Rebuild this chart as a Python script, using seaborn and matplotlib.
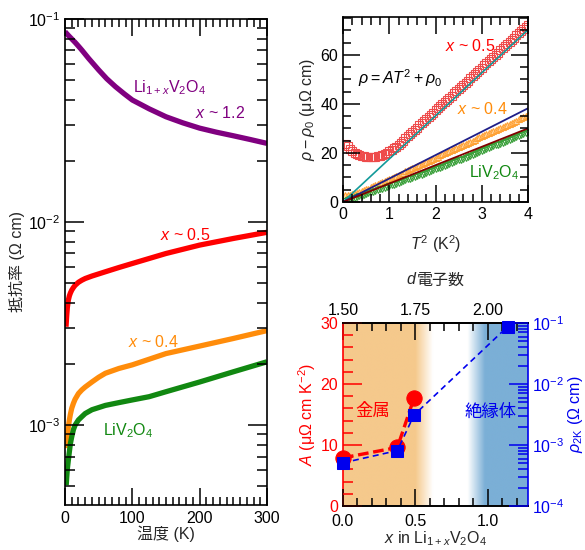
import numpy as np
import matplotlib
matplotlib.use("Agg")
import matplotlib.pyplot as plt
import seaborn as sns
from matplotlib.ticker import MultipleLocator, LogLocator, NullFormatter, FixedLocator, FormatStrFormatter
from matplotlib.offsetbox import TextArea, HPacker, AnchoredOffsetbox
from matplotlib.collections import LineCollection
from matplotlib.transforms import blended_transform_factory

sns.set_theme(style="ticks")
plt.rcParams["font.family"] = ["Liberation Sans", "Noto Sans CJK JP"]
plt.rcParams["mathtext.fontset"] = "custom"
plt.rcParams["mathtext.rm"] = "Liberation Sans"
plt.rcParams["mathtext.it"] = "Liberation Sans:italic"
plt.rcParams["mathtext.bf"] = "Liberation Sans:bold"
plt.rcParams.update({
    "axes.axisbelow": False,
    "xtick.direction": "in", "ytick.direction": "in",
    "xtick.color": "black", "ytick.color": "black",
    "xtick.top": True, "ytick.right": True,
    "axes.edgecolor": "black",
})

# ---------------- data: left panel (resistivity vs T) ----------------
T_x12 = [0, 5, 10, 15, 20, 25, 35, 50, 62, 75, 88, 100, 125, 150, 175, 200, 225, 250, 275, 300]
rho_x12 = [0.0866, 0.083, 0.0798, 0.0767, 0.0735, 0.0703, 0.064, 0.0561, 0.0508, 0.0464,
           0.0428, 0.0399, 0.0361, 0.0330, 0.0308, 0.0290, 0.0277, 0.0266, 0.0255, 0.0244]
T_x05 = [1.5, 2.5, 3.5, 5, 6.5, 8, 10, 12.5, 15, 20, 25, 30, 40, 60, 80, 100, 150, 200, 250, 300]
rho_x05 = [3.05e-3, 3.45e-3, 3.8e-3, 4.13e-3, 4.33e-3, 4.47e-3, 4.62e-3, 4.76e-3, 4.88e-3,
           5.05e-3, 5.17e-3, 5.27e-3, 5.42e-3, 5.69e-3, 5.97e-3, 6.25e-3, 7.0e-3, 7.7e-3,
           8.3e-3, 8.9e-3]
T_x04 = [1.8, 2.5, 3.5, 5, 6.5, 8, 10, 12.5, 15, 20, 25, 30, 40, 50, 60, 80, 100, 150, 200, 250, 300]
rho_x04 = [7.7e-4, 8.2e-4, 8.9e-4, 9.8e-4, 1.06e-3, 1.13e-3, 1.21e-3, 1.28e-3, 1.34e-3,
           1.43e-3, 1.49e-3, 1.54e-3, 1.63e-3, 1.72e-3, 1.80e-3, 1.90e-3, 1.98e-3, 2.25e-3,
           2.45e-3, 2.67e-3, 2.92e-3]
T_liv = [1.8, 2.5, 3.5, 5, 6.5, 8, 10, 12.5, 15, 20, 25, 30, 40, 60, 80, 100, 125, 150, 200, 250, 300]
rho_liv = [5.06e-4, 5.5e-4, 6.1e-4, 6.73e-4, 7.4e-4, 8.1e-4, 8.76e-4, 9.5e-4, 1.0e-3,
           1.06e-3, 1.10e-3, 1.14e-3, 1.19e-3, 1.25e-3, 1.29e-3, 1.33e-3, 1.38e-3, 1.46e-3,
           1.63e-3, 1.83e-3, 2.05e-3]

# ---------------- data: top-right panel (rho - rho0 vs T^2) ----------------
T2 = [0.05, 0.10, 0.15, 0.20, 0.25, 0.30, 0.35, 0.40, 0.45, 0.50,
      0.55, 0.60, 0.65, 0.70, 0.75, 0.80, 0.85, 0.90, 0.95, 1.00,
      1.05, 1.10, 1.15, 1.20, 1.25, 1.30, 1.35, 1.40, 1.45, 1.50,
      1.55, 1.60, 1.65, 1.70, 1.75, 1.80, 1.85, 1.90, 1.95, 2.00,
      2.05, 2.10, 2.15, 2.20, 2.25, 2.30, 2.35, 2.40, 2.45, 2.50,
      2.55, 2.60, 2.65, 2.70, 2.75, 2.80, 2.85, 2.90, 2.95, 3.00,
      3.05, 3.10, 3.15, 3.20, 3.25, 3.30, 3.35, 3.40, 3.45, 3.50,
      3.55, 3.60, 3.65, 3.70, 3.75, 3.80, 3.85, 3.90, 3.95, 4.00]
d_x05 = [23.8, 22.8, 21.6, 20.7, 20.0, 19.5, 19.1, 18.8, 18.6, 18.5,
         18.4, 18.4, 18.4, 18.5, 18.7, 18.9, 19.2, 19.6, 20.1, 20.6,
         21.2, 21.9, 22.6, 23.3, 24.2, 25.0, 25.9, 26.8, 27.7, 28.5,
         29.4, 30.3, 31.2, 32.0, 32.9, 33.8, 34.7, 35.5, 36.4, 37.3,
         38.2, 39.0, 39.9, 40.8, 41.7, 42.5, 43.4, 44.3, 45.2, 46.0,
         46.9, 47.8, 48.7, 49.5, 50.4, 51.3, 52.2, 53.0, 53.9, 54.8,
         55.7, 56.5, 57.4, 58.3, 59.2, 60.0, 60.9, 61.8, 62.7, 63.5,
         64.4, 65.3, 66.2, 67.0, 67.9, 68.8, 69.7, 70.5, 71.4, 72.3]
d_x04 = [2.8, 3.0, 3.0, 3.1, 3.3, 3.6, 3.9, 4.3, 4.7, 5.1,
         5.5, 6.0, 6.4, 6.8, 7.3, 7.7, 8.1, 8.6, 9.0, 9.4,
         9.9, 10.3, 10.7, 11.2, 11.6, 12.0, 12.5, 12.9, 13.3, 13.8,
         14.2, 14.6, 15.1, 15.5, 15.9, 16.4, 16.8, 17.2, 17.7, 18.1,
         18.5, 19.0, 19.4, 19.8, 20.3, 20.7, 21.1, 21.5, 22.0, 22.4,
         22.8, 23.3, 23.7, 24.1, 24.6, 25.0, 25.4, 25.9, 26.3, 26.7,
         27.2, 27.6, 28.0, 28.5, 28.9, 29.3, 29.8, 30.2, 30.6, 31.1,
         31.5, 31.9, 32.4, 32.8, 33.2, 33.7, 34.1, 34.5, 35.0, 35.4]
d_liv = [0.5, 0.8, 1.1, 1.4, 1.7, 2.0, 2.3, 2.6, 3.0, 3.3,
         3.6, 3.9, 4.2, 4.5, 4.9, 5.2, 5.5, 5.8, 6.2, 6.5,
         6.8, 7.1, 7.5, 7.8, 8.1, 8.5, 8.8, 9.2, 9.5, 9.8,
         10.2, 10.5, 10.9, 11.2, 11.6, 11.9, 12.3, 12.6, 13.0, 13.3,
         13.7, 14.0, 14.4, 14.8, 15.1, 15.5, 15.9, 16.2, 16.6, 17.0,
         17.3, 17.7, 18.1, 18.4, 18.8, 19.2, 19.6, 20.0, 20.3, 20.7,
         21.1, 21.5, 21.9, 22.3, 22.7, 23.1, 23.4, 23.8, 24.2, 24.6,
         25.0, 25.4, 25.8, 26.2, 26.6, 27.0, 27.5, 27.9, 28.3, 28.7]
fit_T2 = [0.0, 4.0]
fit_x05 = [0.0, 70.2]
fit_x04 = [0.0, 38.2]
fit_liv = [0.0, 30.0]

# ---------------- data: bottom-right panel ----------------
x_A = [0.0, 0.375, 0.49]
A_vals = [7.9, 9.6, 17.7]
x_rho = [0.0, 0.375, 0.49, 1.135]
rho2K = [5.1e-4, 8.1e-4, 3.1e-3, 0.087]
d_ticks = [1.50, 1.75, 2.00]
d_labels = ["1.50", "1.75", "2.00"]

PURPLE = "#800080"
RED = "#FF0000"
ORANGE = "#FF8C0A"
GREEN = "#118811"
BLUE = "#0000EE"
FS = 11.5


def style_ticks(ax, axis, color="black", major=12, minor=6, pad=3.5):
    ax.tick_params(axis=axis, which="both", direction="in", width=1.1,
                   color=color, labelcolor=color, labelsize=FS, pad=pad)
    ax.tick_params(axis=axis, which="major", length=major)
    ax.tick_params(axis=axis, which="minor", length=minor)


fig = plt.figure(figsize=(5.85, 5.5), dpi=100)

# ======================= left panel =======================
axL = fig.add_axes([65 / 585, 45 / 550, 202 / 585, 486 / 550])
for T, r, c in [(T_x12, rho_x12, PURPLE), (T_x05, rho_x05, RED),
                (T_x04, rho_x04, ORANGE), (T_liv, rho_liv, GREEN)]:
    sns.lineplot(x=T, y=r, ax=axL, color=c, lw=3.8, estimator=None, sort=False,
                 solid_capstyle="butt", solid_joinstyle="round")
axL.set_yscale("log")
axL.set_xlim(0, 300)
axL.set_ylim(4.04e-4, 0.1)
axL.xaxis.set_major_locator(MultipleLocator(100))
axL.xaxis.set_minor_locator(MultipleLocator(10))
axL.yaxis.set_major_locator(LogLocator(base=10))
axL.yaxis.set_minor_locator(LogLocator(base=10, subs=np.arange(2, 10)))
axL.yaxis.set_minor_formatter(NullFormatter())
axL.set_xlabel("温度 (K)", fontsize=FS, labelpad=0)
axL.set_ylabel("抵抗率 (Ω cm)", fontsize=FS, labelpad=2)
axL.text(101, 0.046, r"Li$_{1+x}$V$_2$O$_4$", color=PURPLE, fontsize=FS, ha="left", va="center")
axL.text(193, 0.0344, r"$x$ ~ 1.2", color=PURPLE, fontsize=FS, ha="left", va="center")
axL.text(141, 8.63e-3, r"$x$ ~ 0.5", color=RED, fontsize=FS, ha="left", va="center")
axL.text(93.6, 2.56e-3, r"$x$ ~ 0.4", color=ORANGE, fontsize=FS, ha="left", va="center")
axL.text(56.4, 9.44e-4, r"LiV$_2$O$_4$", color=GREEN, fontsize=FS, ha="left", va="center")

# ======================= top-right panel =======================
axT = fig.add_axes([343 / 585, 348 / 550, 185 / 585, 185 / 550])
sns.lineplot(x=T2, y=d_x05, ax=axT, linestyle="", marker="s", ms=5.5, mfc="none",
             mec="#EE4B4B", mew=0.8, estimator=None, sort=False)
sns.lineplot(x=T2, y=d_x04, ax=axT, linestyle="", marker="^", ms=5, mfc="#FFD9A8",
             mec="#FFA236", mew=0.8, estimator=None, sort=False)
sns.lineplot(x=T2, y=d_liv, ax=axT, linestyle="", marker="v", ms=5, mfc="none",
             mec="#3AA03A", mew=0.8, estimator=None, sort=False)
sns.lineplot(x=fit_T2, y=fit_x05, ax=axT, color="#129A9A", lw=1.2, estimator=None)
sns.lineplot(x=fit_T2, y=fit_x04, ax=axT, color="#1E1E88", lw=1.3, estimator=None)
sns.lineplot(x=fit_T2, y=fit_liv, ax=axT, color="#800000", lw=1.3, estimator=None)
axT.set_xlim(0, 4)
axT.set_ylim(0, 75.4)
axT.xaxis.set_major_locator(MultipleLocator(1))
axT.xaxis.set_minor_locator(MultipleLocator(0.2))
axT.yaxis.set_major_locator(MultipleLocator(20))
axT.yaxis.set_minor_locator(MultipleLocator(5))
axT.set_xlabel(r"$T^2$ (K$^2$)", fontsize=FS, labelpad=8)
axT.set_ylabel(r"$\rho - \rho_0$ (μΩ cm)", fontsize=FS, labelpad=2)
axT.text(2.2, 63.5, r"$x$ ~ 0.5", color=RED, fontsize=FS, ha="left", va="center")
axT.text(0.32, 50.6, r"$\rho = AT^2 + \rho_0$", color="black", fontsize=FS, ha="left", va="center")
axT.text(2.46, 37.9, r"$x$ ~ 0.4", color=ORANGE, fontsize=FS, ha="left", va="center")
axT.text(2.72, 12.0, r"LiV$_2$O$_4$", color=GREEN, fontsize=FS, ha="left", va="center")

# ======================= bottom-right panel =======================
axB = fig.add_axes([343 / 585, 44 / 550, 185 / 585, 183 / 550])
XMAX = 1.276
xs = np.linspace(0, XMAX, 600)
a_o = np.clip((0.62 - xs) / 0.12, 0, 1)
a_b = np.clip((xs - 0.86) / 0.12, 0, 1)
c_o = np.array([245, 201, 140]) / 255
c_b = np.array([123, 175, 214]) / 255
rgb = (1 - a_o - a_b)[:, None] * 1.0 + a_o[:, None] * c_o + a_b[:, None] * c_b
axB.imshow(rgb[None, :, :], extent=[0, XMAX, 0, 30], aspect="auto", zorder=0,
           interpolation="bilinear")
sns.lineplot(x=x_A, y=A_vals, ax=axB, color=RED, lw=2.4, linestyle=(0, (3.2, 1.4)),
             marker="o", ms=11, mec=RED, mfc=RED, estimator=None, sort=False,
             clip_on=False, zorder=3)
axB.set_xlim(0, XMAX)
axB.set_ylim(0, 30)
axB.xaxis.set_major_locator(MultipleLocator(0.5))
axB.xaxis.set_minor_locator(MultipleLocator(0.1))
axB.yaxis.set_major_locator(MultipleLocator(10))
axB.yaxis.set_minor_locator(MultipleLocator(2))
axB.xaxis.set_major_formatter(FormatStrFormatter("%.1f"))
axB.spines["left"].set_color(RED)
axB.spines["right"].set_visible(False)
axB.set_ylabel(r"$A$ (μΩ cm K$^{-2}$)", color=RED, fontsize=FS, labelpad=2)
axB.set_xlabel(r"$x$ in Li$_{1+x}$V$_2$O$_4$", fontsize=FS, labelpad=0)
axB.text(0.203, 15.5, "金属", color=RED, fontsize=12.5, ha="center", va="center", zorder=4)
axB.text(1.02, 15.5, "絶縁体", color=BLUE, fontsize=12.5, ha="center", va="center", zorder=4)

ax2 = axB.twinx()
ax2.set_yscale("log")
sns.lineplot(x=x_rho, y=rho2K, ax=ax2, color=BLUE, lw=1.2, linestyle=(0, (3.6, 2.5)),
             marker="s", ms=9, mec=BLUE, mfc=BLUE, estimator=None, sort=False,
             clip_on=False, zorder=5)
ax2.set_ylim(1e-4, 1e-1)
ax2.set_xlim(0, XMAX)
ax2.yaxis.set_major_locator(LogLocator(base=10))
ax2.yaxis.set_minor_locator(LogLocator(base=10, subs=np.arange(2, 10)))
ax2.yaxis.set_minor_formatter(NullFormatter())
ax2.spines["right"].set_color(BLUE)
ax2.spines["left"].set_visible(False)
ax2.set_ylabel(r"$\rho_{\rm 2K}$ (Ω cm)", color=BLUE, fontsize=FS, labelpad=1)

sec = axB.secondary_xaxis("top", functions=(lambda x: 1.5 + x / 2, lambda d: (d - 1.5) * 2))
sec.xaxis.set_major_locator(FixedLocator(d_ticks))
sec.set_xticklabels(d_labels)
sec.xaxis.set_minor_locator(MultipleLocator(0.05))

ta1 = TextArea("d", textprops=dict(style="italic", fontsize=FS, family="Liberation Sans"))
ta2 = TextArea("電子数", textprops=dict(fontsize=FS))
box = HPacker(children=[ta1, ta2], align="baseline", pad=0, sep=1)
anch = AnchoredOffsetbox(loc="center", child=box, frameon=False,
                         bbox_to_anchor=(435.5 / 585, 1 - 280 / 550),
                         bbox_transform=fig.transFigure, borderpad=0, pad=0)
fig.add_artist(anch)

# ---- tick styling ----
axL.tick_params(which="both", top=True, right=True, bottom=True, left=True)
style_ticks(axL, "x", major=12, minor=6, pad=4)
style_ticks(axL, "y", major=14, minor=7)
axT.tick_params(which="both", top=True, right=True, bottom=True, left=True)
style_ticks(axT, "x", major=12, minor=6)
style_ticks(axT, "y", major=12, minor=6)
axB.tick_params(axis="x", which="both", top=False, bottom=True)
axB.tick_params(axis="y", which="both", left=True, right=False)
style_ticks(axB, "x", major=12, minor=6, pad=6)
style_ticks(axB, "y", color=RED, major=14, minor=7)
ax2.tick_params(axis="y", which="both", right=True, left=False)
style_ticks(ax2, "y", color=BLUE, major=14, minor=7, pad=3)
style_ticks(sec, "x", major=12, minor=6)

for ax in (axL, axT, axB, ax2):
    for s in ax.spines.values():
        s.set_linewidth(1.2)
for s in sec.spines.values():
    s.set_linewidth(1.2)


def xticks_rendered():
    """Check whether the x-axis tick marks actually appear in the raster."""
    fig.canvas.draw()
    buf = np.asarray(fig.canvas.buffer_rgba())[:, :, :3].astype(int)
    H = buf.shape[0]
    col = int(round(axL.transData.transform((100, 1e-2))[0]))
    top = int(round(H - axL.bbox.y1))
    patch = buf[top + 3: top + 12, col - 2: col + 3].sum(axis=2)
    return patch.min() < 450


def tick_segments(host, locs_major, locs_minor, to_x, bottom, top, major=12, minor=6):
    x0, x1 = sorted(host.get_xlim())
    H = host.bbox.height
    segs = []
    for locs, L in ((locs_major, major), (locs_minor, minor)):
        f = L * fig.dpi / 72.0 / H
        for v in locs:
            x = to_x(v)
            if x < x0 - 1e-9 or x > x1 + 1e-9:
                continue
            if bottom:
                segs.append([(x, 0.0), (x, f)])
            if top:
                segs.append([(x, 1.0), (x, 1.0 - f)])
    lc = LineCollection(segs, colors="black", linewidths=1.1, capstyle="butt",
                        transform=blended_transform_factory(host.transData, host.transAxes),
                        clip_on=False, zorder=4)
    host.add_collection(lc, autolim=False)


if not xticks_rendered():
    ident = lambda v: v
    tick_segments(axL, axL.xaxis.get_majorticklocs(), axL.xaxis.get_minorticklocs(),
                  ident, True, True)
    tick_segments(axT, axT.xaxis.get_majorticklocs(), axT.xaxis.get_minorticklocs(),
                  ident, True, True)
    tick_segments(axB, axB.xaxis.get_majorticklocs(), axB.xaxis.get_minorticklocs(),
                  ident, True, False)
    tick_segments(axB, sec.xaxis.get_majorticklocs(), sec.xaxis.get_minorticklocs(),
                  lambda d: (d - 1.5) * 2, False, True)

fig.savefig("out.png", dpi=100)
